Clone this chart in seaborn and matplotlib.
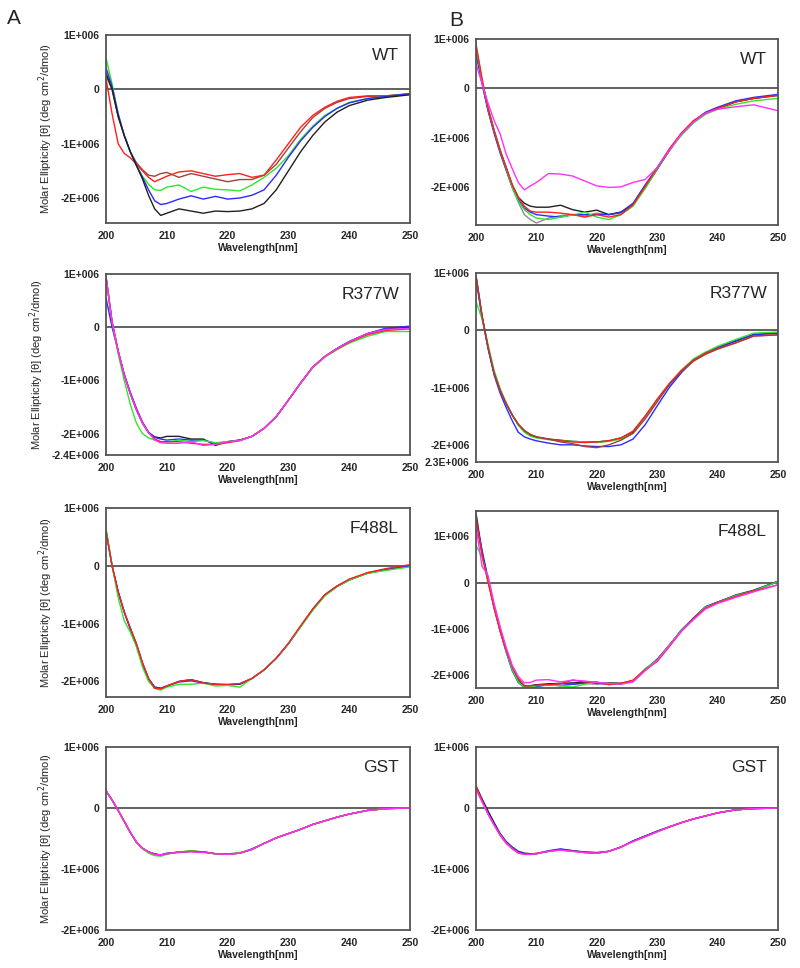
import numpy as np
import pandas as pd
import matplotlib.pyplot as plt
import seaborn as sns
from matplotlib.ticker import FixedLocator, MultipleLocator

sns.set_style('white')
plt.rcParams['font.family'] = ['Liberation Sans', 'DejaVu Sans']

# wavelength grid (nm) shared by all traces
wl = [200, 201, 202, 203, 204, 205, 206, 207, 208, 209, 210, 212, 214, 216, 218,
      220, 222, 224, 226, 228, 230, 232, 234, 236, 238, 240, 243, 246, 250]

# molar ellipticity, in units of 1E+006 deg cm2/dmol
# --- A, WT
a_wt_black = [0.30, 0.00, -0.50, -0.85, -1.15, -1.40, -1.65, -1.95, -2.20, -2.32, -2.28, -2.20, -2.24, -2.28, -2.24, -2.25, -2.24, -2.20, -2.10, -1.85, -1.50, -1.15, -0.85, -0.60, -0.42, -0.30, -0.20, -0.15, -0.10]
a_wt_blue = [0.40, 0.05, -0.45, -0.85, -1.15, -1.40, -1.62, -1.85, -2.05, -2.12, -2.10, -2.02, -1.96, -2.02, -1.97, -2.02, -2.00, -1.95, -1.85, -1.58, -1.25, -0.95, -0.70, -0.50, -0.35, -0.25, -0.17, -0.13, -0.08]
a_wt_green = [0.58, 0.10, -0.45, -0.85, -1.15, -1.40, -1.60, -1.75, -1.85, -1.86, -1.80, -1.76, -1.88, -1.80, -1.84, -1.85, -1.87, -1.76, -1.62, -1.45, -1.22, -0.92, -0.68, -0.48, -0.35, -0.24, -0.17, -0.13, -0.08]
a_wt_red = [0.20, -0.45, -1.00, -1.18, -1.26, -1.38, -1.50, -1.62, -1.70, -1.65, -1.60, -1.52, -1.50, -1.55, -1.60, -1.57, -1.55, -1.62, -1.58, -1.30, -1.00, -0.70, -0.48, -0.33, -0.22, -0.15, -0.12, -0.12, -0.08]
a_wt_brown = [0.25, 0.00, -0.50, -0.85, -1.15, -1.35, -1.48, -1.58, -1.60, -1.55, -1.53, -1.62, -1.55, -1.60, -1.65, -1.70, -1.66, -1.66, -1.58, -1.38, -1.08, -0.78, -0.52, -0.35, -0.24, -0.17, -0.13, -0.12, -0.09]

# --- B, WT
b_wt_black = [0.85, 0.15, -0.40, -0.85, -1.25, -1.60, -1.95, -2.20, -2.32, -2.38, -2.40, -2.40, -2.36, -2.45, -2.50, -2.46, -2.55, -2.50, -2.35, -2.00, -1.63, -1.26, -0.92, -0.68, -0.51, -0.41, -0.27, -0.20, -0.14]
b_wt_grey = [0.80, 0.10, -0.45, -0.90, -1.30, -1.65, -2.00, -2.30, -2.55, -2.65, -2.72, -2.62, -2.57, -2.55, -2.58, -2.52, -2.55, -2.52, -2.35, -2.02, -1.63, -1.25, -0.92, -0.68, -0.50, -0.40, -0.27, -0.20, -0.13]
b_wt_red = [0.90, 0.20, -0.40, -0.85, -1.25, -1.60, -1.95, -2.20, -2.38, -2.48, -2.50, -2.50, -2.52, -2.55, -2.60, -2.55, -2.60, -2.55, -2.35, -1.98, -1.60, -1.22, -0.90, -0.65, -0.50, -0.40, -0.27, -0.20, -0.14]
b_wt_blue = [0.70, 0.10, -0.45, -0.90, -1.30, -1.65, -2.00, -2.25, -2.42, -2.50, -2.55, -2.58, -2.60, -2.55, -2.55, -2.55, -2.55, -2.50, -2.32, -1.95, -1.60, -1.25, -0.92, -0.66, -0.48, -0.38, -0.25, -0.18, -0.12]
b_wt_green = [0.85, 0.15, -0.40, -0.85, -1.25, -1.62, -2.00, -2.28, -2.45, -2.55, -2.62, -2.65, -2.60, -2.56, -2.50, -2.60, -2.65, -2.55, -2.38, -2.02, -1.62, -1.25, -0.95, -0.70, -0.52, -0.42, -0.32, -0.25, -0.20]
b_wt_magenta = [0.50, 0.10, -0.30, -0.65, -0.92, -1.33, -1.62, -1.90, -2.05, -1.97, -1.90, -1.72, -1.73, -1.77, -1.87, -1.97, -2.00, -1.99, -1.90, -1.84, -1.60, -1.25, -0.92, -0.68, -0.50, -0.42, -0.37, -0.33, -0.45]

# --- A, R377W
a_r377w_black = [0.95, 0.10, -0.45, -0.90, -1.25, -1.55, -1.80, -1.98, -2.06, -2.08, -2.05, -2.05, -2.10, -2.10, -2.22, -2.15, -2.12, -2.05, -1.90, -1.68, -1.37, -1.05, -0.75, -0.55, -0.40, -0.27, -0.12, -0.03, 0.00]
a_r377w_blue = [0.55, 0.00, -0.45, -0.88, -1.22, -1.52, -1.78, -1.97, -2.07, -2.10, -2.12, -2.10, -2.12, -2.12, -2.18, -2.15, -2.12, -2.05, -1.90, -1.68, -1.37, -1.05, -0.75, -0.55, -0.40, -0.27, -0.12, -0.02, 0.02]
a_r377w_green = [0.95, 0.10, -0.50, -1.00, -1.45, -1.80, -2.00, -2.08, -2.12, -2.15, -2.16, -2.12, -2.15, -2.13, -2.17, -2.15, -2.13, -2.05, -1.90, -1.68, -1.37, -1.05, -0.76, -0.56, -0.42, -0.30, -0.17, -0.08, -0.08]
a_r377w_red = [0.95, 0.10, -0.45, -0.90, -1.25, -1.55, -1.80, -1.98, -2.10, -2.15, -2.15, -2.15, -2.18, -2.20, -2.20, -2.17, -2.13, -2.05, -1.90, -1.68, -1.37, -1.05, -0.75, -0.55, -0.41, -0.28, -0.14, -0.06, -0.03]
a_r377w_magenta = [0.95, 0.10, -0.45, -0.90, -1.25, -1.55, -1.80, -1.98, -2.12, -2.17, -2.18, -2.18, -2.15, -2.22, -2.20, -2.15, -2.13, -2.05, -1.90, -1.68, -1.37, -1.05, -0.75, -0.55, -0.40, -0.27, -0.12, -0.04, -0.02]

# --- B, R377W
b_r377w_black = [0.95, 0.25, -0.30, -0.75, -1.05, -1.28, -1.48, -1.65, -1.76, -1.83, -1.87, -1.90, -1.92, -1.94, -1.95, -1.95, -1.93, -1.88, -1.78, -1.50, -1.22, -0.95, -0.72, -0.52, -0.39, -0.30, -0.19, -0.07, -0.05]
b_r377w_blue = [0.90, 0.22, -0.32, -0.78, -1.10, -1.35, -1.58, -1.78, -1.86, -1.90, -1.93, -1.97, -2.00, -2.00, -2.02, -2.03, -2.03, -2.00, -1.90, -1.65, -1.32, -1.00, -0.74, -0.53, -0.40, -0.30, -0.18, -0.08, -0.05]
b_r377w_green = [0.50, 0.20, -0.25, -0.70, -1.02, -1.27, -1.48, -1.66, -1.78, -1.85, -1.88, -1.91, -1.93, -1.94, -1.95, -1.96, -1.94, -1.90, -1.80, -1.52, -1.22, -0.94, -0.70, -0.50, -0.38, -0.28, -0.16, -0.05, -0.03]
b_r377w_red = [0.95, 0.25, -0.30, -0.75, -1.05, -1.28, -1.48, -1.64, -1.75, -1.82, -1.86, -1.90, -1.93, -1.95, -1.96, -1.95, -1.93, -1.88, -1.76, -1.50, -1.20, -0.93, -0.70, -0.52, -0.40, -0.32, -0.22, -0.10, -0.08]
b_r377w_brown = [0.95, 0.25, -0.30, -0.75, -1.05, -1.28, -1.48, -1.64, -1.75, -1.82, -1.86, -1.90, -1.95, -1.98, -2.03, -2.05, -2.00, -1.92, -1.80, -1.55, -1.25, -0.95, -0.72, -0.54, -0.42, -0.33, -0.22, -0.10, -0.08]

# --- A, F488L
a_f488l_black = [0.62, 0.00, -0.45, -0.80, -1.08, -1.35, -1.68, -1.95, -2.10, -2.12, -2.08, -2.00, -1.97, -2.02, -2.05, -2.06, -2.05, -1.95, -1.80, -1.60, -1.35, -1.05, -0.75, -0.50, -0.35, -0.24, -0.13, -0.07, 0.00]
a_f488l_blue = [0.60, 0.00, -0.45, -0.80, -1.10, -1.38, -1.70, -1.96, -2.10, -2.12, -2.08, -2.01, -1.99, -2.03, -2.05, -2.06, -2.04, -1.95, -1.80, -1.60, -1.35, -1.05, -0.76, -0.51, -0.36, -0.25, -0.12, -0.06, 0.00]
a_f488l_green = [0.65, 0.00, -0.55, -0.95, -1.15, -1.40, -1.75, -2.00, -2.12, -2.15, -2.10, -2.05, -2.05, -2.03, -2.08, -2.07, -2.10, -1.95, -1.80, -1.60, -1.35, -1.06, -0.77, -0.52, -0.36, -0.25, -0.13, -0.08, -0.02]
a_f488l_red = [0.60, 0.00, -0.45, -0.80, -1.08, -1.35, -1.68, -1.95, -2.12, -2.13, -2.08, -2.00, -1.97, -2.03, -2.05, -2.05, -2.04, -1.95, -1.80, -1.60, -1.34, -1.04, -0.75, -0.50, -0.35, -0.23, -0.12, -0.05, 0.02]

# --- B, F488L
b_f488l_black = [1.50, 0.65, 0.05, -0.50, -1.00, -1.45, -1.85, -2.10, -2.22, -2.22, -2.20, -2.18, -2.17, -2.16, -2.15, -2.17, -2.16, -2.17, -2.12, -1.88, -1.65, -1.35, -1.04, -0.77, -0.53, -0.43, -0.27, -0.17, 0.03]
b_f488l_blue = [1.35, 0.70, 0.08, -0.55, -1.05, -1.50, -1.90, -2.15, -2.26, -2.27, -2.24, -2.20, -2.18, -2.19, -2.16, -2.17, -2.19, -2.18, -2.13, -1.86, -1.67, -1.35, -1.02, -0.77, -0.52, -0.42, -0.28, -0.18, 0.02]
b_f488l_green = [0.80, 0.55, 0.05, -0.52, -1.02, -1.48, -1.88, -2.13, -2.26, -2.25, -2.22, -2.21, -2.22, -2.25, -2.19, -2.15, -2.17, -2.18, -2.12, -1.86, -1.67, -1.35, -1.03, -0.78, -0.53, -0.43, -0.28, -0.18, 0.02]
b_f488l_red = [1.40, 0.60, 0.00, -0.55, -1.05, -1.46, -1.82, -2.06, -2.22, -2.22, -2.21, -2.20, -2.18, -2.10, -2.14, -2.14, -2.20, -2.17, -2.10, -1.88, -1.70, -1.38, -1.05, -0.78, -0.55, -0.43, -0.30, -0.18, -0.05]
b_f488l_magenta = [1.20, 0.35, 0.15, -0.45, -0.95, -1.40, -1.78, -2.02, -2.16, -2.15, -2.10, -2.09, -2.14, -2.10, -2.12, -2.15, -2.17, -2.19, -2.14, -1.90, -1.68, -1.36, -1.05, -0.80, -0.57, -0.45, -0.32, -0.20, -0.05]
b_f488l_grey = [1.30, 0.60, 0.03, -0.53, -1.02, -1.46, -1.86, -2.12, -2.24, -2.23, -2.20, -2.19, -2.23, -2.19, -2.17, -2.19, -2.16, -2.17, -2.11, -1.88, -1.68, -1.35, -1.03, -0.76, -0.52, -0.42, -0.27, -0.16, 0.02]

# --- A, GST
a_gst_black = [0.28, 0.13, -0.04, -0.22, -0.40, -0.56, -0.66, -0.72, -0.75, -0.77, -0.75, -0.72, -0.71, -0.72, -0.75, -0.76, -0.74, -0.68, -0.58, -0.49, -0.42, -0.35, -0.27, -0.21, -0.15, -0.10, -0.04, -0.01, 0.00]
a_gst_blue = [0.28, 0.13, -0.04, -0.22, -0.40, -0.56, -0.66, -0.72, -0.76, -0.77, -0.74, -0.73, -0.71, -0.72, -0.75, -0.75, -0.74, -0.67, -0.58, -0.49, -0.42, -0.35, -0.27, -0.21, -0.15, -0.10, -0.04, -0.01, 0.00]
a_gst_green = [0.28, 0.13, -0.04, -0.22, -0.40, -0.56, -0.67, -0.74, -0.78, -0.79, -0.76, -0.72, -0.70, -0.72, -0.75, -0.76, -0.73, -0.68, -0.58, -0.49, -0.42, -0.35, -0.27, -0.21, -0.15, -0.10, -0.04, -0.01, 0.00]
a_gst_red = [0.28, 0.13, -0.04, -0.22, -0.40, -0.56, -0.66, -0.72, -0.76, -0.77, -0.75, -0.72, -0.71, -0.72, -0.75, -0.76, -0.74, -0.68, -0.58, -0.49, -0.42, -0.35, -0.27, -0.21, -0.15, -0.10, -0.04, -0.01, 0.00]
a_gst_magenta = [0.28, 0.13, -0.04, -0.22, -0.40, -0.56, -0.66, -0.72, -0.76, -0.77, -0.75, -0.72, -0.72, -0.73, -0.75, -0.76, -0.74, -0.68, -0.58, -0.49, -0.42, -0.35, -0.27, -0.21, -0.15, -0.10, -0.04, -0.01, 0.00]

# --- B, GST
b_gst_black = [0.36, 0.15, -0.05, -0.24, -0.42, -0.55, -0.64, -0.71, -0.74, -0.75, -0.75, -0.71, -0.68, -0.70, -0.72, -0.73, -0.71, -0.64, -0.54, -0.46, -0.38, -0.31, -0.24, -0.18, -0.13, -0.08, -0.03, -0.01, 0.00]
b_gst_blue = [0.33, 0.12, -0.08, -0.26, -0.43, -0.56, -0.65, -0.72, -0.75, -0.76, -0.75, -0.70, -0.67, -0.70, -0.73, -0.74, -0.71, -0.64, -0.54, -0.46, -0.38, -0.31, -0.24, -0.18, -0.13, -0.08, -0.03, -0.01, 0.00]
b_gst_red = [0.36, 0.12, -0.10, -0.28, -0.45, -0.58, -0.67, -0.74, -0.76, -0.76, -0.74, -0.71, -0.69, -0.71, -0.73, -0.74, -0.71, -0.64, -0.55, -0.47, -0.39, -0.31, -0.24, -0.18, -0.13, -0.08, -0.03, -0.01, 0.00]
b_gst_magenta = [0.30, 0.10, -0.10, -0.28, -0.44, -0.57, -0.66, -0.73, -0.76, -0.76, -0.75, -0.71, -0.69, -0.71, -0.73, -0.74, -0.71, -0.64, -0.55, -0.47, -0.39, -0.31, -0.24, -0.18, -0.13, -0.08, -0.03, -0.01, 0.00]

line_colors = {'black': '#202020', 'grey': '#8c8c8c', 'blue': '#2b2bff',
               'green': '#2ee62e', 'red': '#ff1f1f', 'magenta': '#ff30ff',
               'brown': '#a3403c'}

tick_vals = [1e6, 0, -1e6, -2e6]
tick_text = ['1E+006', '0', '-1E+006', '-2E+006']

# (label, column, axes rect in pixels [left, top, right, bottom], ylim, traces)
panels = [
    ('WT', 'A', (106, 35, 410, 223), (-2.46e6, 1e6),
     {'brown': a_wt_brown, 'red': a_wt_red, 'green': a_wt_green, 'blue': a_wt_blue, 'black': a_wt_black}),
    ('WT', 'B', (476, 39, 778, 225), (-2.76e6, 1e6),
     {'grey': b_wt_grey, 'black': b_wt_black, 'blue': b_wt_blue, 'green': b_wt_green, 'red': b_wt_red, 'magenta': b_wt_magenta}),
    ('R377W', 'A', (106, 274, 410, 455), (-2.4e6, 1e6),
     {'black': a_r377w_black, 'blue': a_r377w_blue, 'green': a_r377w_green, 'red': a_r377w_red, 'magenta': a_r377w_magenta}),
    ('R377W', 'B', (476, 273, 778, 462), (-2.3e6, 1e6),
     {'black': b_r377w_black, 'blue': b_r377w_blue, 'green': b_r377w_green, 'red': b_r377w_red, 'brown': b_r377w_brown}),
    ('F488L', 'A', (106, 508, 410, 697), (-2.27e6, 1e6),
     {'black': a_f488l_black, 'blue': a_f488l_blue, 'green': a_f488l_green, 'red': a_f488l_red}),
    ('F488L', 'B', (476, 511, 778, 688), (-2.27e6, 1.54e6),
     {'grey': b_f488l_grey, 'black': b_f488l_black, 'blue': b_f488l_blue, 'green': b_f488l_green, 'red': b_f488l_red, 'magenta': b_f488l_magenta}),
    ('GST', 'A', (106, 747, 410, 930), (-2e6, 1e6),
     {'black': a_gst_black, 'blue': a_gst_blue, 'green': a_gst_green, 'red': a_gst_red, 'magenta': a_gst_magenta}),
    ('GST', 'B', (476, 747, 778, 930), (-2e6, 1e6),
     {'black': b_gst_black, 'blue': b_gst_blue, 'red': b_gst_red, 'magenta': b_gst_magenta}),
]

extra_bottom = {(1, 'A'): '-2.4E+006', (1, 'B'): '2.3E+006'}

W, H = 800, 968
fig = plt.figure(figsize=(W / 100, H / 100), dpi=100)

for i, (name, col, (l, t, r, b), ylim, traces) in enumerate(panels):
    ax = fig.add_axes([l / W, 1 - b / H, (r - l) / W, (b - t) / H])

    # long table for seaborn
    df = pd.concat([pd.DataFrame({'wl': wl, 'theta': np.array(v) * 1e6, 'run': k})
                    for k, v in traces.items()], ignore_index=True)
    sns.lineplot(data=df, x='wl', y='theta', hue='run', palette=line_colors,
                 estimator=None, sort=False, legend=False, lw=1.0, ax=ax)

    ax.axhline(0, color='#555555', lw=1.3, zorder=1)
    ax.set_xlim(200, 250)
    ax.set_ylim(*ylim)

    vals, labs = list(tick_vals), list(tick_text)
    key = (i // 2, col)
    if key in extra_bottom:
        vals.append(ylim[0])
        labs.append(extra_bottom[key])
    ax.yaxis.set_major_locator(FixedLocator(vals))
    ax.set_yticklabels(labs)
    ax.yaxis.set_minor_locator(MultipleLocator(5e5))
    ax.xaxis.set_major_locator(FixedLocator([200, 210, 220, 230, 240, 250]))
    ax.xaxis.set_minor_locator(MultipleLocator(5))

    ax.tick_params(axis='x', which='major', direction='in', length=4, width=1,
                   color='#444444', pad=6, labelsize=7.5)
    ax.tick_params(axis='x', which='minor', direction='in', length=2.5, width=1, color='#444444')
    ax.tick_params(axis='y', which='major', direction='inout', length=5, width=1,
                   color='#444444', pad=2, labelsize=7.5)
    ax.tick_params(axis='y', which='minor', direction='in', length=2.5, width=1, color='#444444')
    for lab in ax.get_xticklabels() + ax.get_yticklabels():
        lab.set_fontweight('bold')

    for sp in ax.spines.values():
        sp.set_color('#555555')
        sp.set_linewidth(1.3)

    ax.set_xlabel('Wavelength[nm]', fontsize=7.5, fontweight='bold', labelpad=1)
    if col == 'A':
        ax.set_ylabel('Molar Ellipticity [θ] (deg cm$^2$/dmol)', fontsize=8, labelpad=4)
    else:
        ax.set_ylabel('')

    ax.annotate(name, xy=(1, 1), xycoords='axes fraction', xytext=(-8, -15),
                textcoords='offset points', ha='right', va='center', fontsize=12.5)

fig.text(7 / W, 1 - 18 / H, 'A', fontsize=15, ha='left', va='center')
fig.text(449 / W, 1 - 20 / H, 'B', fontsize=15, ha='left', va='center')

fig.savefig('out.png', dpi=100, facecolor='white')
